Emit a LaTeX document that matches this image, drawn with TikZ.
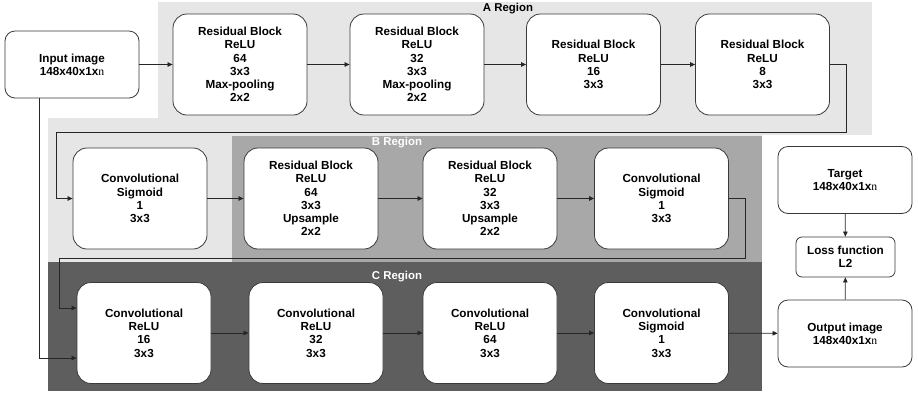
\documentclass[tikz,border=0pt]{standalone}
\usepackage{fontspec}
\setmainfont{Liberation Sans}
\newfontfamily\serifn{Liberation Serif}
\usetikzlibrary{arrows.meta,calc}
\definecolor{regA}{HTML}{E6E6E6}
\definecolor{regB}{HTML}{A8A8A8}
\definecolor{regC}{HTML}{5E5E5E}
\definecolor{edge}{HTML}{3A3A3A}
\newcommand{\dimn}{148x40x1x{\serifn\mdseries n}}
\begin{document}
\begin{tikzpicture}[x=1pt,y=-1pt,
  font=\fontsize{11.7}{13.3}\selectfont\bfseries,
  blk/.style={draw=edge,fill=white,line width=0.8pt,rounded corners=14pt,
    minimum width=134pt,minimum height=101pt,align=center,inner sep=0pt},
  io/.style={blk,minimum height=67pt,rounded corners=10pt},
  loss/.style={blk,minimum width=99pt,minimum height=40pt,rounded corners=6pt},
  arr/.style={draw=black!85,line width=0.7pt,-{Triangle[length=5pt,width=4.5pt]}},
  reglabel/.style={font=\fontsize{11.4}{13}\selectfont\bfseries}]
\useasboundingbox (0,0) rectangle (918,394);

% shaded regions
\fill[regA] (158,2) rectangle (872,135);
\fill[regA] (48,118) rectangle (762,262);
\fill[regB] (232,136) rectangle (762,262);
\fill[regC] (48,262) rectangle (762,391);
\node[reglabel] (la) at (508,9) {A Region};
\node[reglabel,text=white] (lb) at (397,143) {B Region};
\node[reglabel,text=white] (lc) at (397,277) {C Region};

% first row
\node[io]  (inp)  at (72,64.5)   {Input image\\\dimn};
\node[blk] (r64)  at (240,64.5)  {Residual Block\\ReLU\\64\\3x3\\Max-pooling\\2x2};
\node[blk] (r32)  at (417,64.5)  {Residual Block\\ReLU\\32\\3x3\\Max-pooling\\2x2};
\node[blk] (r16)  at (593.5,64.5){Residual Block\\ReLU\\16\\3x3};
\node[blk] (r8)   at (762.5,64.5){Residual Block\\ReLU\\8\\3x3};

% second row
\node[blk] (cs1)  at (140,198.5) {Convolutional\\Sigmoid\\1\\3x3};
\node[blk] (u64)  at (311,198.5) {Residual Block\\ReLU\\64\\3x3\\Upsample\\2x2};
\node[blk] (u32)  at (490,198.5) {Residual Block\\ReLU\\32\\3x3\\Upsample\\2x2};
\node[blk] (cs2)  at (661.5,198.5){Convolutional\\Sigmoid\\1\\3x3};

% third row
\node[blk] (c16)  at (144,333)   {Convolutional\\ReLU\\16\\3x3};
\node[blk] (c32)  at (316,333)   {Convolutional\\ReLU\\32\\3x3};
\node[blk] (c64)  at (490,333)   {Convolutional\\ReLU\\64\\3x3};
\node[blk] (cs3)  at (661.5,333) {Convolutional\\Sigmoid\\1\\3x3};
\node[io]  (out)  at (845,333.5) {Output image\\\dimn};

% loss branch
\node[io]   (tgt)  at (845,180)   {Target\\\dimn};
\node[loss] (lf)   at (845.5,257) {Loss function\\L2};

% connectors
\draw[arr] (inp) -- (r64);
\draw[arr] (r64) -- (r32);
\draw[arr] (r32) -- (r16);
\draw[arr] (r16) -- (r8);
\coordinate (k1) at (846,132);
\draw[arr] (r8.east) -| (k1) -| ($(cs1.west)+(-16,0)$) -- (cs1.west);
\draw[arr] (cs1) -- (u64);
\draw[arr] (u64) -- (u32);
\draw[arr] (u32) -- (cs2);
\coordinate (k2) at (745,258);
\draw[arr] (cs2.east) -| (k2) -| ($(c16.west)+(-17,-25)$) -- ($(c16.west)+(0,-25)$);
\draw[arr] ($(inp.south west)+(35,0)$) |- ($(c16.west)+(0,25)$);
\draw[arr] (c16) -- (c32);
\draw[arr] (c32) -- (c64);
\draw[arr] (c64) -- (cs3);
\draw[arr] (cs3) -- (out);
\draw[arr] (tgt) -- (lf);
\draw[arr] (out) -- (lf);
\end{tikzpicture}
\end{document}
